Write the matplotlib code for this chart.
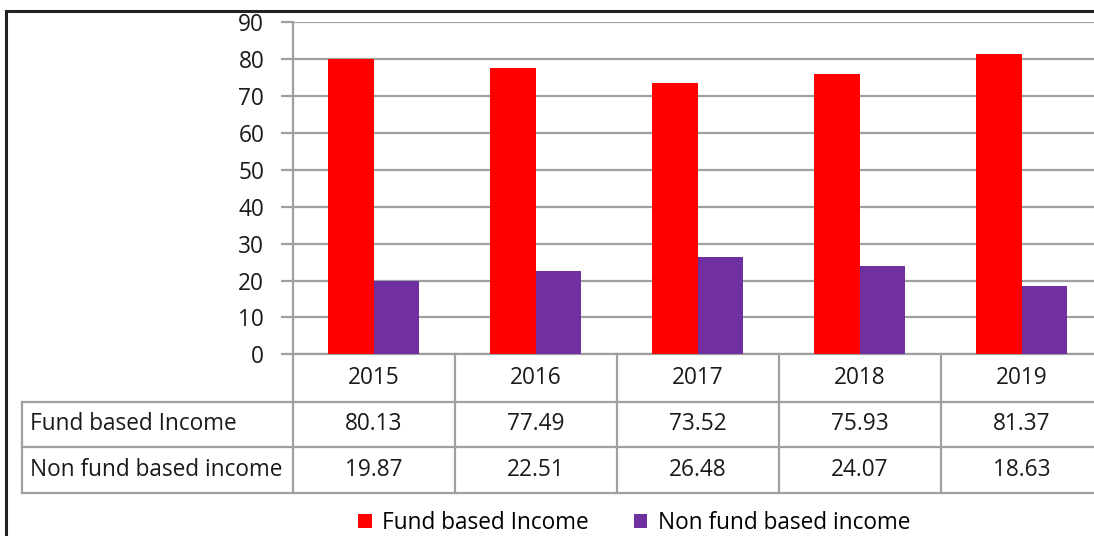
import numpy as np
import matplotlib.pyplot as plt
from matplotlib.patches import Rectangle
from matplotlib.transforms import blended_transform_factory

plt.rcParams['font.family'] = ['Open Sans', 'DejaVu Sans']

years = ['2015', '2016', '2017', '2018', '2019']
fund_based = [80.13, 77.49, 73.52, 75.93, 81.37]
non_fund_based = [19.87, 22.51, 26.48, 24.07, 18.63]
series_names = ['Fund based Income', 'Non fund based income']
yticks = [0, 10, 20, 30, 40, 50, 60, 70, 80, 90]

RED = '#ff0000'
PURPLE = '#7030a0'
GRID = '#a0a0a0'
TXT = '#1a1a1a'
FS = 16.3

W, H = 1094, 536
fig = plt.figure(figsize=(W / 100, H / 100), dpi=100)

# plot area in pixels (runs past the right edge of the figure)
left, right, top, bottom = 292.7, 1102.7, 22.3, 354.3
ax = fig.add_axes([left / W, 1 - bottom / H, (right - left) / W, (bottom - top) / H])

x = np.arange(len(years))
bw = 0.28
b1 = ax.bar(x - bw / 2, fund_based, bw, color=RED, label=series_names[0], zorder=3)
b2 = ax.bar(x + bw / 2, non_fund_based, bw, color=PURPLE, label=series_names[1], zorder=3)

ax.set_xlim(-0.5, len(years) - 0.5)
ax.set_ylim(0, 90)
ax.set_yticks(yticks)
ax.set_yticklabels([str(t) for t in yticks], fontsize=FS, color=TXT)
ax.set_xticks([])
ax.tick_params(axis='y', length=9, width=1.6, color=GRID, pad=11.5)
ax.yaxis.grid(True, color=GRID, linewidth=1.6, zorder=0)
for s in ['top', 'right', 'bottom']:
    ax.spines[s].set_visible(False)
ax.spines['left'].set_color(GRID)
ax.spines['left'].set_linewidth(1.6)

# data table under the axis
tr = blended_transform_factory(ax.transData, ax.transAxes)
h_ax = bottom - top
row_edges = [0.0] + [-(p - bottom) / h_ax for p in (401.7, 447.0, 493.0)]
label_left = (22 - left) / (right - left)

line_kw = dict(color=GRID, linewidth=1.6, clip_on=False)
ax.plot([-0.5, len(years) - 0.5], [0, 0], transform=tr, **line_kw)
for yy in row_edges[1:]:
    ax.plot([label_left, 1.2], [yy, yy], transform=ax.transAxes, **line_kw)
for i in range(len(years) + 1):
    ax.plot([i - 0.5, i - 0.5], [row_edges[0], row_edges[-1]], transform=tr, **line_kw)
ax.plot([label_left, label_left], [row_edges[1], row_edges[-1]], transform=ax.transAxes, **line_kw)

mids = [(row_edges[k] + row_edges[k + 1]) / 2 for k in range(3)]
for i, yr in enumerate(years):
    ax.text(i, mids[0], yr, transform=tr, ha='center', va='center', fontsize=FS, color=TXT)
    ax.text(i, mids[1], f'{fund_based[i]:.2f}', transform=tr, ha='center', va='center',
            fontsize=FS, color=TXT)
    ax.text(i, mids[2], f'{non_fund_based[i]:.2f}', transform=tr, ha='center', va='center',
            fontsize=FS, color=TXT)
for k, name in enumerate(series_names):
    ax.text(label_left + 0.01, mids[k + 1], name, transform=ax.transAxes, ha='left',
            va='center', fontsize=FS, color=TXT)

# legend
fig.legend(handles=[b1, b2], labels=series_names, loc='center', ncol=2,
           bbox_to_anchor=(634 / W, 1 - 523 / H), frameon=False, fontsize=FS,
           handlelength=0.6, handleheight=0.6, handletextpad=0.45, columnspacing=2.0)

# chart frame
fig.patches.append(Rectangle((6 / W, -0.1), 1.2, 1.1 - 11 / H, transform=fig.transFigure,
                             fill=False, edgecolor='#222222', linewidth=2.2))

fig.savefig('out.png', dpi=100)
